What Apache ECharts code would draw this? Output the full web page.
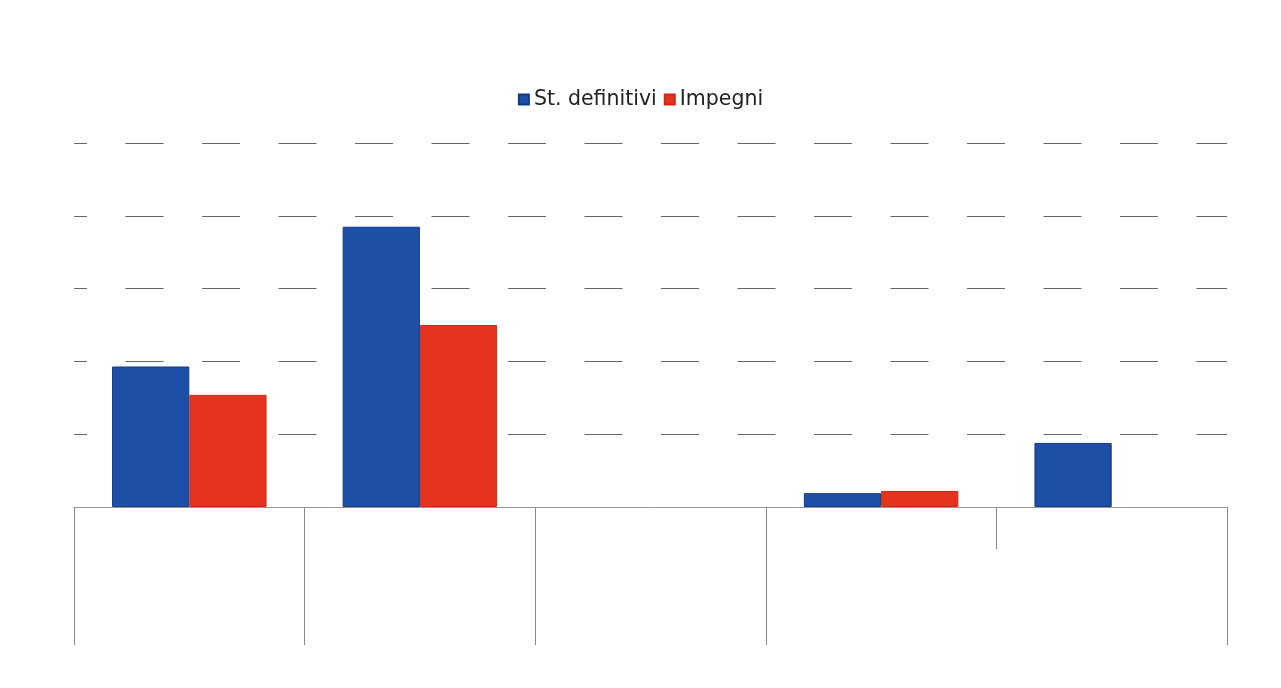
<!DOCTYPE html>
<html>
<head>
<meta charset="utf-8">
<script src="https://cdn.jsdelivr.net/npm/echarts@6/dist/echarts.min.js"></script>
<style>html,body{margin:0;padding:0;background:#fff;}#c{width:1281px;height:688px;}</style>
</head>
<body>
<div id="c"></div>
<script>
const categories = ['1', '2', '3', '4', '5'];
const stDefinitivi = [1.93, 3.85, null, 0.19, 0.88];
const impegni = [1.54, 2.50, null, 0.22, null];
const boundaries = ['', '', '', '', '', ''];

const chart = echarts.init(document.getElementById('c'));
chart.setOption({
  backgroundColor: '#ffffff',
  animation: false,
  legend: {
    top: 84, left: 'center',
    itemWidth: 10, itemHeight: 10, itemGap: 7,
    icon: 'rect',
    textStyle: { fontFamily: 'DejaVu Sans', fontSize: 20.5, color: '#222' },
    data: ['St. definitivi', 'Impegni']
  },
  grid: { left: 74, right: 54, top: 143, bottom: 181 },
  xAxis: [{
    type: 'category', data: categories,
    axisLine: { lineStyle: { color: '#999', width: 1 } },
    axisTick: { show: true, length: 138, lineStyle: { color: '#888' },
      interval: function (i) { return i !== 4; } },
    axisLabel: { show: false }
  }, {
    type: 'category', data: boundaries, boundaryGap: false, position: 'bottom',
    axisLine: { show: false },
    axisTick: { show: true, length: 42, lineStyle: { color: '#888' },
      interval: function (i) { return i === 4; } },
    axisLabel: { show: false }
  }],
  yAxis: {
    type: 'value', min: 0, max: 5, interval: 1,
    axisLine: { show: false }, axisTick: { show: false }, axisLabel: { show: false },
    splitLine: { lineStyle: { color: '#666', width: 1, type: [38, 38.5], dashOffset: 25 } }
  },
  series: [{
    name: 'St. definitivi', type: 'bar', data: stDefinitivi,
    barGap: '0%', barCategoryGap: '33%',
    itemStyle: { color: '#1d4fa6', borderColor: '#123a86', borderWidth: 1 }
  }, {
    name: 'Impegni', type: 'bar', data: impegni,
    itemStyle: { color: '#e5331f', borderColor: '#c92a18', borderWidth: 1 }
  }]
});
</script>
</body>
</html>
